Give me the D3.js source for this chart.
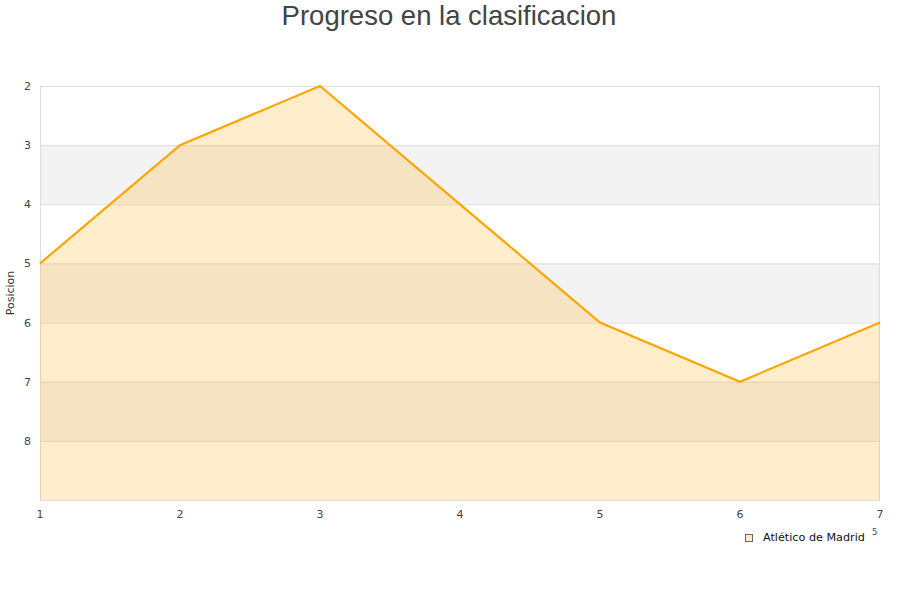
<!DOCTYPE html>
<html><head><meta charset="utf-8">
<script src="https://cdn.jsdelivr.net/npm/d3@7"></script>
<style>body{margin:0;background:#fff}svg{display:block}</style>
</head><body>
<svg id="c" width="900" height="600"></svg>
<script>
const jornadas = [1, 2, 3, 4, 5, 6, 7];
const posiciones = [5, 3, 2, 4, 6, 7, 6];
const yTicks = [2, 3, 4, 5, 6, 7, 8];
const serieNombre = "Atlético de Madrid";
const titulo = "Progreso en la clasificacion";
const yTitulo = "Posicion";

const svg = d3.select("#c");
const L = 40, R = 880, T = 86, B = 500;
const x = d3.scaleLinear().domain([1, 7]).range([L, R]);
const y = d3.scaleLinear().domain([2, 9]).range([T, B]);

// alternating bands
const bands = d3.range(2, 9);
svg.selectAll("rect.band").data(bands).enter().append("rect")
  .attr("x", L).attr("width", R - L)
  .attr("y", d => y(d)).attr("height", d => y(d + 1) - y(d))
  .attr("fill", (d, i) => i % 2 ? "#f3f3f3" : "#ffffff");

// grid lines
svg.selectAll("line.grid").data(yTicks).enter().append("line")
  .attr("x1", L).attr("x2", R).attr("y1", d => y(d) + 0.5).attr("y2", d => y(d) + 0.5)
  .attr("stroke", "#dddddd").attr("stroke-width", 1);

// plot border
svg.append("rect").attr("x", L + 0.5).attr("y", T + 0.5).attr("width", R - L - 1).attr("height", B - T)
  .attr("fill", "none").attr("stroke", "#dddddd");

const data = jornadas.map((j, i) => ({ j, p: posiciones[i] }));
svg.append("path").datum(data)
  .attr("d", d3.area().x(d => x(d.j)).y0(y(9)).y1(d => y(d.p)))
  .attr("fill", "rgba(255,165,0,0.2)");
svg.append("path").datum(data)
  .attr("d", d3.line().x(d => x(d.j)).y(d => y(d.p)))
  .attr("fill", "none").attr("stroke", "#ffa500").attr("stroke-width", 2.2);

// y tick labels
svg.selectAll("text.yt").data(yTicks).enter().append("text")
  .attr("x", 31).attr("y", d => y(d) + 4).attr("text-anchor", "end")
  .attr("font-family", "DejaVu Sans").attr("font-size", 11).attr("fill", "#444")
  .text(d => d);

// x tick labels
svg.selectAll("text.xt").data(jornadas).enter().append("text")
  .attr("x", d => x(d)).attr("y", 518).attr("text-anchor", "middle")
  .attr("font-family", "DejaVu Sans").attr("font-size", 11).attr("fill", "#444")
  .text(d => d);

// y title
svg.append("text").attr("transform", "translate(14,293) rotate(-90)")
  .attr("text-anchor", "middle").attr("font-family", "DejaVu Sans").attr("font-size", 11)
  .attr("fill", "#333").text(yTitulo);

// title
svg.append("text").attr("x", 449).attr("y", 25).attr("text-anchor", "middle")
  .attr("font-family", "Liberation Sans, Arial, sans-serif").attr("font-size", 27.5)
  .attr("fill", "#444").text(titulo);

// legend
svg.append("rect").attr("x", 745.5).attr("y", 534.5).attr("width", 7).attr("height", 7)
  .attr("fill", "#ffebc8").attr("stroke", "#666");
svg.append("text").attr("x", 763).attr("y", 541).attr("font-family", "DejaVu Sans")
  .attr("font-size", 11.2).attr("fill", "#111").text(serieNombre);
svg.append("text").attr("x", 872).attr("y", 535).attr("font-family", "DejaVu Sans")
  .attr("font-size", 8.5).attr("fill", "#444").text("5");
</script>
</body></html>
